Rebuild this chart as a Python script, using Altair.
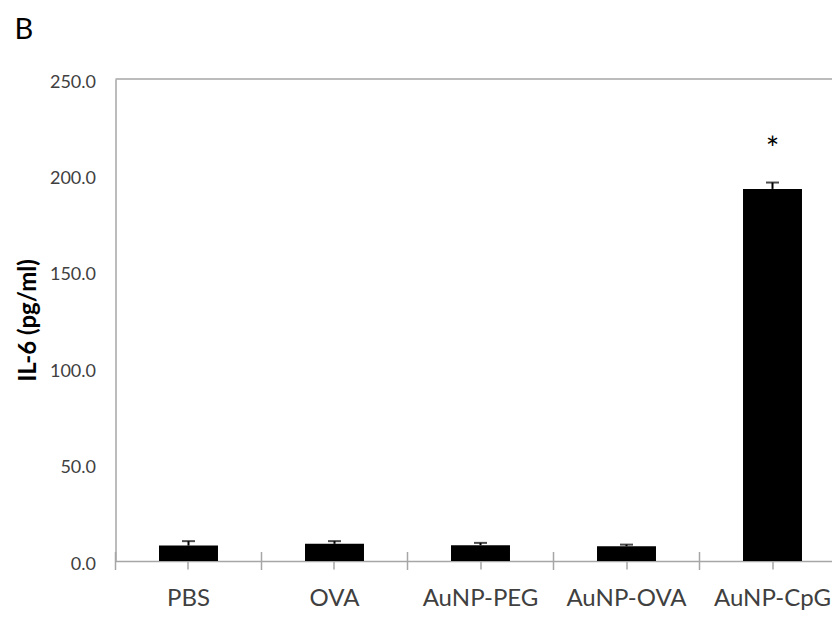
import altair as alt
import pandas as pd

# ---- data ----
groups = ["PBS", "OVA", "AuNP-PEG", "AuNP-OVA", "AuNP-CpG"]
means = [8.0, 8.9, 8.2, 7.7, 193.0]
errors = [2.3, 1.4, 1.2, 0.8, 3.3]
star_groups = ["AuNP-CpG"]
star_values = [217.5]
star_text = ["*"]
y_ticks = [0, 50, 100, 150, 200, 250]
panel_label = ["B"]
y_title = "IL-6 (pg/ml)"

df = pd.DataFrame({"group": groups, "mean": means, "err": errors})
df["upper"] = df["mean"] + df["err"]
stars = pd.DataFrame({"group": star_groups, "value": star_values, "t": star_text})
panel = pd.DataFrame({"t": panel_label})

W, H = 716, 482
XR = 730          # x range continues past the visible edge, as in the cropped reference
STEP = XR / len(groups)
GRAY = "#a6a6a6"
FONT = "Lato"

xscale = alt.Scale(domain=groups, range=[0, XR], paddingInner=0.596, paddingOuter=0.298)
yscale = alt.Scale(domain=[0, 250], nice=False, zero=True)

xaxis = alt.Axis(
    title=None, labelAngle=0, labelFont=FONT, labelFontSize=24, labelColor="#404040",
    labelPadding=17, tickSize=8, tickColor=GRAY, tickWidth=1.5,
    domain=True, domainColor=GRAY, domainWidth=1.5, grid=False,
)
yaxis = alt.Axis(
    values=y_ticks, format=".1f", ticks=False, domain=True, domainColor=GRAY, domainWidth=1.5,
    grid=False,
    labelFont=FONT, labelFontSize=18, labelColor="#404040", labelPadding=20, labelOffset=3,
    title=y_title, titleFont=FONT, titleFontSize=24, titleFontWeight="bold", titleColor="#000000",
    titleAngle=270, titleX=-87.5, titleY=H / 2, titleAlign="center", titleBaseline="middle",
)

base = alt.Chart(df)

bars = base.mark_bar(color="#000000").encode(
    x=alt.X("group:N", scale=xscale, axis=xaxis, sort=groups),
    y=alt.Y("mean:Q", scale=yscale, axis=yaxis),
)

err_line = base.mark_rule(color="#000000", strokeWidth=2).encode(
    x=alt.X("group:N", sort=groups),
    y="mean:Q",
    y2="upper:Q",
)

err_cap = base.mark_tick(color="#000000", thickness=2, size=13).encode(
    x=alt.X("group:N", sort=groups),
    y="upper:Q",
)

boundary_ticks = base.mark_rule(color=GRAY, strokeWidth=1.5, xOffset=-STEP / 2).encode(
    x=alt.X("group:N", sort=groups),
    y=alt.value(H - 9),
    y2=alt.value(H + 9),
)

top_border = alt.Chart(panel).mark_rule(color=GRAY, strokeWidth=1.5).encode(
    x=alt.value(0),
    x2=alt.value(XR),
    y=alt.value(0),
)

star = alt.Chart(stars).mark_text(
    font=FONT, fontSize=32, baseline="alphabetic", align="center", dy=18, color="#000000"
).encode(
    x=alt.X("group:N", sort=groups),
    y="value:Q",
    text="t:N",
)

label = alt.Chart(panel).mark_text(
    font=FONT, fontSize=29, baseline="top", align="left", color="#000000"
).encode(
    x=alt.value(-101),
    y=alt.value(-63),
    text="t:N",
)

chart = alt.layer(bars, err_line, err_cap, boundary_ticks, top_border, star, label).properties(
    width=W, height=H,
    padding={"left": 107.5, "top": 71, "right": 0, "bottom": 49},
    autosize=alt.AutoSizeParams(type="none"),
    background="#ffffff",
).configure_view(stroke=None)

chart.save("out.html", embed_options={"renderer": "svg", "actions": False})
